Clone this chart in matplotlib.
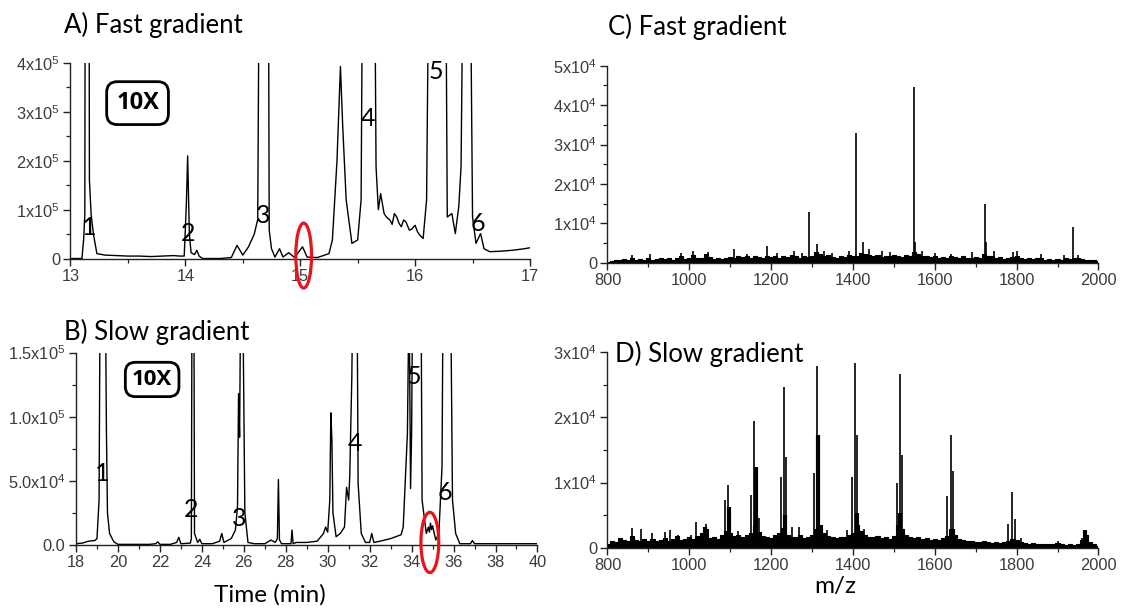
import numpy as np
import matplotlib
matplotlib.use('Agg')
import matplotlib.pyplot as plt
from matplotlib.patches import Ellipse
from matplotlib.ticker import MultipleLocator

plt.rcParams['font.family'] = ['Liberation Sans', 'DejaVu Sans']
plt.rcParams['mathtext.fontset'] = 'custom'
plt.rcParams['mathtext.rm'] = 'Liberation Sans'
plt.rcParams['mathtext.default'] = 'rm'

# ---- A) fast gradient chromatogram (intensity in 1e5 counts) ----
a_time = [13.00, 13.10, 13.115, 13.125, 13.13, 13.16, 13.165, 13.18, 13.20, 13.23,
          13.30, 13.40, 13.50, 13.60, 13.70, 13.80, 13.90, 13.95, 13.99, 14.00,
          14.01, 14.02, 14.035, 14.05, 14.08, 14.10, 14.12, 14.15, 14.30, 14.40,
          14.45, 14.48, 14.50, 14.55, 14.60, 14.63, 14.65, 14.72, 14.73, 14.75,
          14.78, 14.82, 14.85, 14.90, 14.95, 15.02, 15.06, 15.15, 15.25, 15.28,
          15.32, 15.35, 15.37, 15.40, 15.45, 15.50, 15.53, 15.55, 15.64, 15.66,
          15.68, 15.70, 15.73, 15.75, 15.78, 15.80, 15.82, 15.84, 15.86, 15.88,
          15.90, 15.92, 15.95, 15.97, 16.00, 16.02, 16.04, 16.07, 16.10, 16.13,
          16.26, 16.28, 16.32, 16.35, 16.38, 16.40, 16.43, 16.47, 16.50, 16.53,
          16.57, 16.60, 16.65, 16.75, 16.85, 16.95, 17.00]
a_int = [0.0, 0.0, 0.4, 0.9, 9.0, 9.0, 1.6, 0.9, 0.5, 0.1,
         0.07, 0.06, 0.05, 0.05, 0.04, 0.05, 0.06, 0.05, 0.05, 0.6,
         1.2, 2.1, 0.5, 0.12, 0.08, 0.17, 0.05, 0.0, 0.0, 0.02,
         0.27, 0.15, 0.07, 0.24, 0.5, 0.8, 9.0, 9.0, 0.58, 0.2,
         0.03, 0.2, 0.03, 0.12, 0.02, 0.24, 0.03, 0.02, 0.1, 0.38,
         2.0, 3.93, 2.7, 1.2, 0.31, 0.38, 1.2, 9.0, 9.0, 1.88,
         1.0, 1.33, 0.92, 0.85, 0.79, 0.7, 0.92, 0.85, 0.72, 0.65,
         0.79, 0.75, 0.58, 0.6, 0.68, 0.55, 0.48, 0.41, 1.2, 9.0,
         9.0, 0.85, 0.92, 0.51, 1.06, 1.88, 9.0, 9.0, 0.85, 0.31,
         0.51, 0.2, 0.14, 0.15, 0.17, 0.2, 0.22]

# ---- B) slow gradient chromatogram (intensity in 1e5 counts) ----
b_time = [18.0, 18.3, 18.6, 18.9, 19.0, 19.1, 19.15, 19.4, 19.45, 19.5,
          19.6, 19.8, 20.0, 20.5, 21.0, 21.5, 21.8, 21.9, 22.0, 22.5,
          22.8, 22.9, 23.0, 23.45, 23.5, 23.53, 23.62, 23.65, 23.8, 23.9,
          24.0, 24.5, 24.85, 24.95, 25.05, 25.4, 25.6, 25.7, 25.75, 25.8,
          25.85, 25.95, 26.05, 26.2, 26.5, 27.0, 27.3, 27.5, 27.6, 27.65,
          27.7, 27.8, 28.25, 28.3, 28.35, 28.5, 29.0, 29.5, 29.8, 29.9,
          30.0, 30.1, 30.15, 30.2, 30.25, 30.4, 30.6, 30.8, 30.9, 31.0,
          31.05, 31.1, 31.15, 31.2, 31.4, 31.45, 31.6, 31.8, 32.0, 32.1,
          32.2, 32.5, 33.0, 33.5, 33.6, 33.8, 33.88, 33.95, 34.0, 34.05,
          34.1, 34.45, 34.5, 34.7, 34.8, 34.85, 34.9, 34.95, 35.0, 35.15,
          35.3, 35.45, 35.5, 35.55, 35.86, 35.95, 36.1, 36.3, 36.8, 36.9,
          37.0, 38.0, 39.0, 40.0]
b_int = [0.01, 0.015, 0.03, 0.035, 0.05, 0.35, 2.0, 2.0, 0.9, 0.25,
         0.09, 0.026, 0.005, 0.005, 0.005, 0.005, 0.01, 0.025, 0.005, 0.005,
         0.02, 0.06, 0.01, 0.015, 0.05, 2.0, 2.0, 0.09, 0.02, 0.044,
         0.01, 0.01, 0.03, 0.09, 0.02, 0.05, 0.117, 0.3, 1.18, 0.84,
         2.0, 2.0, 0.25, 0.02, 0.01, 0.01, 0.039, 0.02, 0.05, 0.51,
         0.04, 0.01, 0.01, 0.117, 0.01, 0.02, 0.02, 0.03, 0.09, 0.14,
         0.1, 0.35, 1.03, 0.82, 0.25, 0.065, 0.09, 0.14, 0.45, 0.35,
         0.53, 0.92, 1.31, 2.0, 2.0, 0.48, 0.09, 0.02, 0.02, 0.09,
         0.02, 0.03, 0.05, 0.08, 0.14, 0.87, 2.0, 0.44, 0.87, 2.0,
         2.0, 2.0, 0.35, 0.09, 0.14, 0.1, 0.17, 0.12, 0.15, 0.039,
         0.09, 0.61, 2.0, 2.0, 2.0, 0.35, 0.09, 0.01, 0.01, 0.034,
         0.01, 0.01, 0.01, 0.01]

# ---- mass spectra, baseline noise read every 10 m/z (intensity in 1e4 counts) ----
mz_fine = list(range(800, 2001, 10))
c_noise = [0.02, 0.05, 0.08, 0.06, 0.09, 0.07, 0.12, 0.08, 0.10, 0.07,
           0.11, 0.08, 0.10, 0.13, 0.09, 0.11, 0.08, 0.12, 0.16, 0.10,
           0.12, 0.20, 0.11, 0.13, 0.21, 0.15, 0.10, 0.12, 0.09, 0.13,
           0.15, 0.12, 0.18, 0.14, 0.17, 0.13, 0.18, 0.15, 0.12, 0.16,
           0.14, 0.17, 0.12, 0.16, 0.15, 0.20, 0.17, 0.13, 0.16, 0.14,
           0.18, 0.26, 0.22, 0.17, 0.20, 0.15, 0.13, 0.17, 0.14, 0.20,
           0.18, 0.16, 0.25, 0.22, 0.20, 0.17, 0.19, 0.15, 0.18, 0.16,
           0.20, 0.17, 0.14, 0.19, 0.16, 0.27, 0.22, 0.18, 0.16, 0.14,
           0.17, 0.13, 0.15, 0.12, 0.18, 0.14, 0.11, 0.16, 0.13, 0.12,
           0.15, 0.12, 0.22, 0.18, 0.16, 0.12, 0.14, 0.10, 0.13, 0.15,
           0.17, 0.12, 0.10, 0.13, 0.09, 0.11, 0.12, 0.08, 0.10, 0.07,
           0.09, 0.08, 0.12, 0.10, 0.11, 0.13, 0.09, 0.07, 0.08, 0.06,
           0.05]
d_noise = [0.05, 0.10, 0.08, 0.15, 0.12, 0.10, 0.18, 0.12, 0.10, 0.13,
           0.11, 0.14, 0.10, 0.12, 0.15, 0.11, 0.13, 0.18, 0.12, 0.14,
           0.16, 0.13, 0.18, 0.22, 0.28, 0.15, 0.17, 0.14, 0.20, 0.25,
           0.22, 0.18, 0.20, 0.16, 0.19, 0.22, 0.35, 0.24, 0.18, 0.16,
           0.15, 0.19, 0.22, 0.30, 0.20, 0.17, 0.16, 0.20, 0.15, 0.17,
           0.19, 0.28, 0.35, 0.22, 0.18, 0.16, 0.15, 0.17, 0.16, 0.19,
           0.22, 0.35, 0.25, 0.19, 0.17, 0.16, 0.18, 0.15, 0.17, 0.14,
           0.18, 0.35, 0.28, 0.20, 0.17, 0.15, 0.16, 0.13, 0.15, 0.12,
           0.14, 0.12, 0.15, 0.18, 0.28, 0.20, 0.14, 0.12, 0.10, 0.11,
           0.09, 0.08, 0.10, 0.08, 0.07, 0.09, 0.07, 0.08, 0.10, 0.14,
           0.12, 0.09, 0.07, 0.06, 0.07, 0.05, 0.06, 0.05, 0.06, 0.05,
           0.07, 0.05, 0.04, 0.05, 0.04, 0.05, 0.12, 0.20, 0.08, 0.06,
           0.03]

# ---- C) fast gradient peaks ----
c_mz = [860, 905, 980, 1010, 1045, 1110, 1140, 1190, 1215, 1255,
        1275, 1292, 1313, 1330, 1350, 1390, 1408, 1424, 1440, 1470,
        1490, 1550, 1552, 1570, 1600, 1640, 1690, 1722, 1724, 1745,
        1790, 1800, 1860, 1915, 1938, 1950]
c_int = [0.20, 0.22, 0.25, 0.30, 0.28, 0.36, 0.22, 0.42, 0.25, 0.30,
         0.25, 1.29, 0.47, 0.30, 0.25, 0.30, 3.28, 0.52, 0.35, 0.30,
         0.28, 4.45, 0.52, 0.30, 0.25, 0.22, 0.28, 1.50, 0.52, 0.30,
         0.28, 0.30, 0.22, 0.20, 0.90, 0.20]

# ---- D) slow gradient peaks ----
d_mz = [859, 883, 909, 940, 952, 972, 1005, 1017, 1042, 1088,
        1094, 1120, 1151, 1158.7, 1171, 1223, 1231, 1235.5, 1251, 1268.7,
        1304, 1312, 1337, 1385, 1398, 1405, 1411, 1428, 1507, 1514,
        1519, 1631, 1639.6, 1645, 1779, 1789.7, 1795, 1810, 1900, 1960, 1974]
d_int = [0.30, 0.28, 0.22, 0.24, 0.27, 0.19, 0.20, 0.40, 0.36, 0.73,
         0.96, 0.25, 0.81, 1.95, 0.45, 1.08, 2.46, 1.39, 0.32, 0.31,
         1.14, 2.79, 0.27, 0.27, 1.08, 2.83, 1.73, 0.28, 0.99, 2.67,
         1.42, 0.79, 1.73, 1.17, 0.36, 0.85, 0.44, 0.15, 0.10, 0.15, 0.12]
# isotope clusters that show up as thick bars
d_cl_mz = [1038, 1097, 1162, 1233, 1315, 1409, 1516, 1645, 1968]
d_cl_int = [0.31, 0.63, 1.24, 0.50, 1.73, 0.53, 0.53, 0.28, 0.27]

# tick labels
a_yticks = [0, 1, 2, 3, 4]
a_ylabels = ['0', '1x10$^{5}$', '2x10$^{5}$', '3x10$^{5}$', '4x10$^{5}$']
b_yticks = [0, 0.5, 1.0, 1.5]
b_ylabels = ['0.0', '5.0x10$^{4}$', '1.0x10$^{5}$', '1.5x10$^{5}$']
c_yticks = [0, 1, 2, 3, 4, 5]
c_ylabels = ['0'] + ['%dx10$^{4}$' % i for i in range(1, 6)]
d_yticks = [0, 1, 2, 3]
d_ylabels = ['0'] + ['%dx10$^{4}$' % i for i in range(1, 4)]

a_peaks = [(13.16, 0.64), (14.02, 0.52), (14.68, 0.89), (15.59, 2.87), (16.18, 3.82), (16.55, 0.72)]
b_peaks = [(19.23, 0.559), (23.48, 0.273), (25.78, 0.208), (31.28, 0.79), (34.12, 1.31), (35.57, 0.41)]

TITLE_FONT = ['Lato', 'DejaVu Sans']
TICK_COLOR = '#3c3c3c'


def style_axes(ax):
    for s in ['top', 'right']:
        ax.spines[s].set_visible(False)
    for s in ['left', 'bottom']:
        ax.spines[s].set_linewidth(1.0)
        ax.spines[s].set_color('#222222')
    ax.tick_params(which='major', direction='out', length=5, width=1,
                   labelsize=11.8, labelcolor=TICK_COLOR, color='#222222', pad=2.5)
    ax.tick_params(which='minor', direction='out', length=3, width=0.9, color='#222222')


def draw_spectrum(ax, noise, mz, inten):
    ax.fill_between(mz_fine, 0, noise, step='mid', color='black', lw=0)
    ax.plot(mz_fine, noise, drawstyle='steps-mid', color='black', lw=0.8)
    ax.vlines(mz, 0, inten, color='black', lw=1.2)


fig = plt.figure(figsize=(11.31, 6.08), dpi=100)

# panel A
axA = fig.add_axes([0.0623, 0.5748, 0.4063, 0.3215])
axA.plot(a_time, a_int, color='black', lw=1.0)
axA.set_xlim(13, 17)
axA.set_ylim(0, 4)
axA.set_xticks([13, 14, 15, 16, 17])
axA.xaxis.set_minor_locator(MultipleLocator(0.5))
axA.set_yticks(a_yticks)
axA.set_yticklabels(a_ylabels)
axA.yaxis.set_minor_locator(MultipleLocator(0.5))
style_axes(axA)
for i, (x, y) in enumerate(a_peaks):
    axA.text(x, y, str(i + 1), ha='center', va='center', fontsize=18, family=TITLE_FONT)
axA.add_patch(Ellipse((15.03, 0.06), 0.137, 1.33, fill=False, ec='#e8141b', lw=2.3, clip_on=False, zorder=5))
axA.text(0.146, 0.795, '10X', transform=axA.transAxes, ha='center', va='center',
         fontsize=17, fontweight='bold', family=['Open Sans', 'DejaVu Sans'],
         bbox=dict(boxstyle='round,pad=0.4,rounding_size=0.45', fc='white', ec='black', lw=2))

# panel B
axB = fig.add_axes([0.0672, 0.1036, 0.4080, 0.3166])
axB.plot(b_time, b_int, color='black', lw=1.0)
axB.set_xlim(18, 40)
axB.set_ylim(0, 1.5)
axB.set_xticks(np.arange(18, 41, 2))
axB.xaxis.set_minor_locator(MultipleLocator(1))
axB.set_yticks(b_yticks)
axB.set_yticklabels(b_ylabels)
axB.yaxis.set_minor_locator(MultipleLocator(0.25))
style_axes(axB)
for i, (x, y) in enumerate(b_peaks):
    axB.text(x, y, str(i + 1), ha='center', va='center', fontsize=18, family=TITLE_FONT)
axB.add_patch(Ellipse((34.87, 0.02), 0.85, 0.47, fill=False, ec='#e8141b', lw=2.3, clip_on=False, zorder=5))
axB.text(0.165, 0.86, '10X', transform=axB.transAxes, ha='center', va='center',
         fontsize=16, fontweight='bold', family=['Open Sans', 'DejaVu Sans'],
         bbox=dict(boxstyle='round,pad=0.3,rounding_size=0.45', fc='white', ec='black', lw=2))

# panel C
axC = fig.add_axes([0.5371, 0.5679, 0.4341, 0.3240])
draw_spectrum(axC, c_noise, c_mz, c_int)
axC.set_xlim(800, 2000)
axC.set_ylim(0, 5)
axC.set_xticks(np.arange(800, 2001, 200))
axC.xaxis.set_minor_locator(MultipleLocator(100))
axC.set_yticks(c_yticks)
axC.set_yticklabels(c_ylabels)
axC.yaxis.set_minor_locator(MultipleLocator(0.5))
style_axes(axC)

# panel D
axD = fig.add_axes([0.5371, 0.0992, 0.4341, 0.3214])
draw_spectrum(axD, d_noise, d_mz, d_int)
axD.vlines(d_cl_mz, 0, d_cl_int, color='black', lw=3.0)
axD.set_xlim(800, 2000)
axD.set_ylim(0, 3)
axD.set_xticks(np.arange(800, 2001, 200))
axD.xaxis.set_minor_locator(MultipleLocator(100))
axD.set_yticks(d_yticks)
axD.set_yticklabels(d_ylabels)
axD.yaxis.set_minor_locator(MultipleLocator(0.5))
style_axes(axD)

# panel titles and axis labels
fig.text(0.0566, 0.9452, 'A) Fast gradient', fontsize=18.5, family=TITLE_FONT, va='baseline')
fig.text(0.0562, 0.4408, 'B) Slow gradient', fontsize=18.5, family=TITLE_FONT, va='baseline')
fig.text(0.5376, 0.9424, 'C) Fast gradient', fontsize=18.5, family=TITLE_FONT, va='baseline')
fig.text(0.5438, 0.4051, 'D) Slow gradient', fontsize=18.5, family=TITLE_FONT, va='baseline')
fig.text(0.2383, 0.0104, 'Time (min)', fontsize=17.5, family=TITLE_FONT, ha='center', va='baseline')
fig.text(0.7383, 0.0247, 'm/z', fontsize=17.5, family=TITLE_FONT, ha='center', va='baseline')

fig.savefig('out.png', dpi=100)
